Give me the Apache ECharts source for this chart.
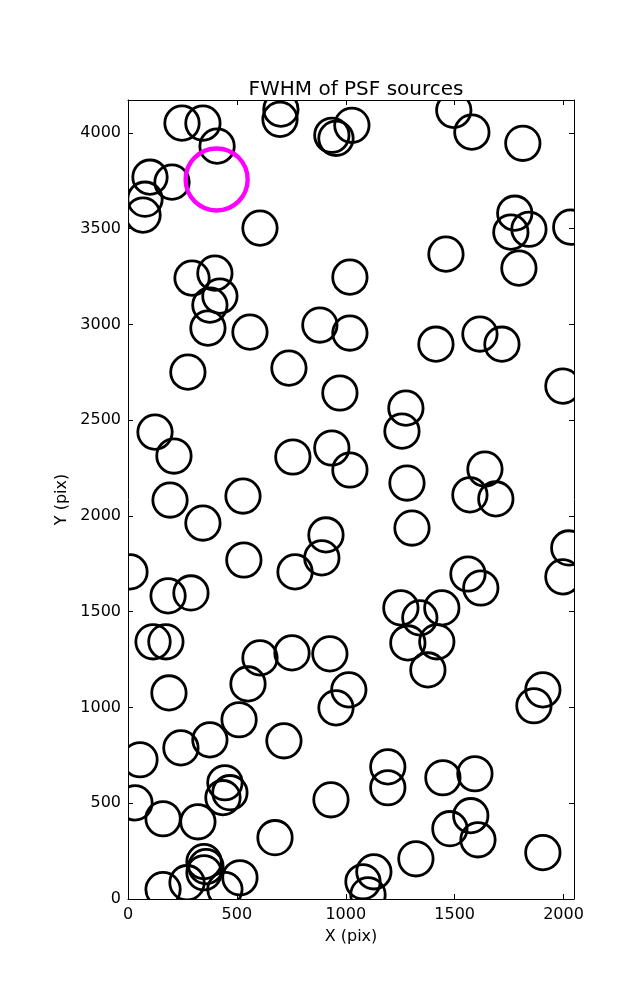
<!DOCTYPE html>
<html><head><meta charset="utf-8">
<script src="https://cdn.jsdelivr.net/npm/echarts@6/dist/echarts.min.js"></script>
<style>html,body{margin:0;padding:0;background:#fff}#c{width:637px;height:1000px}</style>
</head><body><div id="c"></div>
<script>
const chartTitle = 'FWHM of PSF sources';
const xName = 'X (pix)';
const yName = 'Y (pix)';
const xRange = [0, 2048];
const yRange = [0, 4172];
const tickStep = 500;

const srcX = [248,344,409,101,202,78,69,606,702,698,936,955,1028,1496,1579,1813,1776,1758,1841,2033,
  1460,1795,1019,294,399,422,376,367,560,881,1019,275,739,973,1414,1616,1717,1997,124,211,
  757,936,1019,1276,1258,1281,1639,193,528,1570,1689,344,532,909,890,767,9,184,289,1304,
  2024,1997,1561,1620,115,174,606,753,927,551,188,1014,955,1253,1441,1340,1285,1418,1377,1905,
  1864,55,243,376,510,716,445,468,436,32,161,321,932,675,349,358,349,161,271,445,
  514,1193,1193,1446,1593,1574,1478,1607,1905,1322,1129,1079,1102];
const srcY = [4051,4051,3931,3769,3743,3654,3571,3503,4124,4071,3988,3972,4040,4118,4004,3946,3581,3482,3497,3508,
  3367,3294,3247,3242,3268,3148,3101,2981,2960,2997,2955,2751,2772,2642,2897,2950,2897,2678,2438,2313,
  2308,2355,2240,2563,2443,2172,2245,2083,2104,2110,2089,1963,1770,1901,1781,1708,1708,1583,1598,1937,
  1833,1682,1697,1624,1343,1343,1259,1285,1280,1123,1076,1092,998,1520,1520,1468,1337,1343,1196,1092,
  1009,727,789,831,936,826,607,555,529,502,419,403,518,320,195,169,137,49,85,49,
  111,690,581,633,654,435,367,309,242,210,142,90,22];

const hiX = [407];
const hiY = [3757];

const chart = echarts.init(document.getElementById('c'), null, {renderer: 'canvas'});

function ring(r, color, lw) {
  return function (params, api) {
    const p = api.coord([api.value(0), api.value(1)]);
    return {type: 'circle', shape: {cx: p[0], cy: p[1], r: r},
      style: {fill: 'none', stroke: color, lineWidth: lw}};
  };
}

const font = 'DejaVu Sans';
const lineStyle = {color: '#000', width: 1};
const plain = v => String(v);
function axisBase(extra) {
  return Object.assign({
    type: 'value', splitLine: {show: false},
    axisLine: {show: true, onZero: false, lineStyle: lineStyle},
    axisTick: {show: true, inside: true, length: 5, lineStyle: lineStyle},
  }, extra);
}

chart.setOption({
  animation: false,
  backgroundColor: '#fff',
  title: {text: chartTitle, left: 351, top: 75, textAlign: 'center',
    textStyle: {fontFamily: font, fontSize: 20, fontWeight: 'normal', color: '#000'}},
  grid: {left: 128, top: 100, right: 63, bottom: 101, containLabel: false},
  xAxis: [
    axisBase({min: xRange[0], max: xRange[1], interval: tickStep, position: 'bottom',
      name: xName, nameLocation: 'middle', nameGap: 30,
      nameTextStyle: {fontFamily: font, fontSize: 16, color: '#000'},
      axisLabel: {fontFamily: font, fontSize: 16, color: '#000', margin: 8, showMaxLabel: false, formatter: plain}}),
    axisBase({min: xRange[0], max: xRange[1], interval: tickStep, position: 'top',
      axisLabel: {show: false}})
  ],
  yAxis: [
    axisBase({min: yRange[0], max: yRange[1], interval: tickStep, position: 'left',
      name: yName, nameLocation: 'middle', nameGap: 55,
      nameTextStyle: {fontFamily: font, fontSize: 16, color: '#000'},
      axisLabel: {fontFamily: font, fontSize: 16, color: '#000', margin: 7, showMaxLabel: false, formatter: plain}}),
    axisBase({min: yRange[0], max: yRange[1], interval: tickStep, position: 'right',
      axisLabel: {show: false}})
  ],
  series: [
    {type: 'custom', clip: true, xAxisIndex: 0, yAxisIndex: 0,
      data: srcX.map((x, i) => [x, srcY[i]]), renderItem: ring(17.2, '#000', 2.8)},
    {type: 'custom', clip: true, xAxisIndex: 0, yAxisIndex: 0,
      data: hiX.map((x, i) => [x, hiY[i]]), renderItem: ring(31, '#ff00ff', 4.4)}
  ]
});
</script></body></html>
